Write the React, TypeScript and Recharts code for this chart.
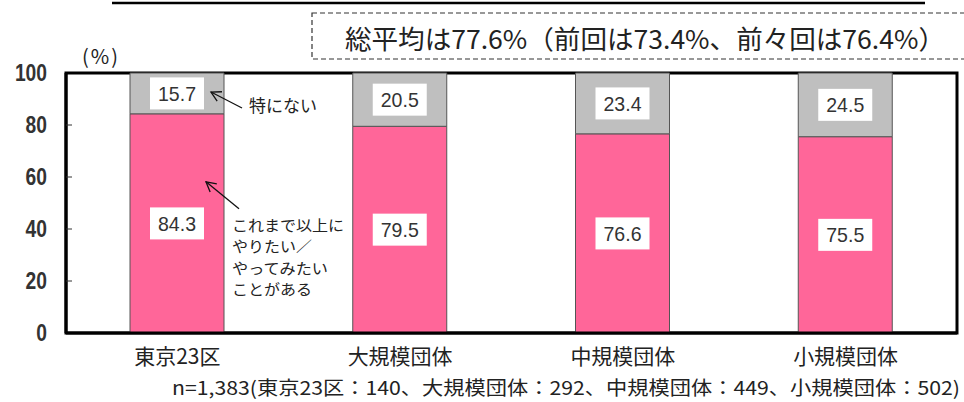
import React from 'react';
import { BarChart, Bar, XAxis, YAxis, ReferenceArea, LabelList } from 'recharts';

const categories = ['東京23区', '大規模団体', '中規模団体', '小規模団体'];
const wantValues = [84.3, 79.5, 76.6, 75.5];
const noneValues = [15.7, 20.5, 23.4, 24.5];
const yTicks = [0, 20, 40, 60, 80, 100];
const summaryText = '総平均は77.6%（前回は73.4%、前々回は76.4%）';
const unitText = '(%)';
const noteText = 'n=1,383(東京23区：140、大規模団体：292、中規模団体：449、小規模団体：502)';
const noneLabel = '特にない';
const wantLabelLines = ['これまで以上に', 'やりたい／', 'やってみたい', 'ことがある'];

const data = categories.map((name, i) => ({ name, want: wantValues[i], none: noneValues[i] }));

const JP = '"Noto Sans CJK JP", "Noto Sans", sans-serif';
const NUM = '"Liberation Sans", "DejaVu Sans", sans-serif';

const YTick = (props: any) => {
  const { x, y, payload } = props;
  const axisX = x + 19;
  const v = payload.value;
  const s = String(v);
  return (
    <g>
      {v > 0 && v < 100 && <line x1={axisX} x2={axisX + 6} y1={y} y2={y} stroke="#333" strokeWidth={1} />}
      <text
        x={x}
        y={y}
        dy={8}
        textAnchor="end"
        fontFamily={NUM}
        fontWeight="bold"
        fontSize={23}
        fill="#333"
        textLength={s.length * 10.7}
        lengthAdjust="spacingAndGlyphs"
      >
        {s}
      </text>
    </g>
  );
};

const XTick = (props: any) => {
  const { x, y, payload } = props;
  return (
    <text x={x} y={y + 23} textAnchor="middle" fontFamily={JP} fontSize={21} fill="#222">
      {payload.value}
    </text>
  );
};

const Arrow = ({ x1, y1, x2, y2 }: { x1: number; y1: number; x2: number; y2: number }) => {
  const ang = Math.atan2(y2 - y1, x2 - x1);
  const len = 11;
  const spread = 0.5;
  const ax = x2 - len * Math.cos(ang - spread);
  const ay = y2 - len * Math.sin(ang - spread);
  const bx = x2 - len * Math.cos(ang + spread);
  const by = y2 - len * Math.sin(ang + spread);
  return (
    <g stroke="#111" strokeWidth={1.3} fill="none">
      <line x1={x1} y1={y1} x2={x2} y2={y2} />
      <polyline points={`${ax},${ay} ${x2},${y2} ${bx},${by}`} />
    </g>
  );
};

const makeLabel = (series: 'want' | 'none') => (props: any) => {
  const { x, y, width, height, value, index } = props;
  const cx = x + width / 2;
  const cy = y + height / 2;
  const bw = 54;
  const bh = 32;
  const txt = Number(value).toFixed(1);
  return (
    <g>
      <rect x={cx - bw / 2} y={cy - bh / 2} width={bw} height={bh} fill="#fff" />
      <text
        x={cx}
        y={cy}
        dy={7.5}
        textAnchor="middle"
        fontFamily={NUM}
        fontSize={21}
        fill="#333"
        textLength={38}
        lengthAdjust="spacingAndGlyphs"
      >
        {txt}
      </text>
      {index === 0 && series === 'none' && (
        <g>
          <Arrow x1={x + width + 18} y1={y + 35} x2={x + width - 13} y2={y + 19} />
          <text x={x + width + 25} y={y + 39} fontFamily={JP} fontSize={17} fill="#222">
            {noneLabel}
          </text>
        </g>
      )}
      {index === 0 && series === 'want' && (
        <g>
          <Arrow x1={x + width + 15} y1={y + 95} x2={x + width - 18} y2={y + 68} />
          {wantLabelLines.map((t, k) => (
            <text
              key={k}
              x={x + width + 8}
              y={y + 117 + k * 21.5}
              fontFamily={JP}
              fontSize={14.6}
              fill="#222"
              textLength={t.length * 16}
              lengthAdjust="spacingAndGlyphs"
            >
              {t}
            </text>
          ))}
        </g>
      )}
    </g>
  );
};

export default function App() {
  return (
    <div style={{ position: 'absolute', left: 0, top: 0, width: 964, height: 402, background: '#fff' }}>
      <svg width={964} height={402} style={{ position: 'absolute', left: 0, top: 0 }}>
        <line x1={112} x2={925} y1={3} y2={3} stroke="#000" strokeWidth={2.5} />
        <rect x={312} y={13} width={700} height={46} fill="none" stroke="#333" strokeWidth={1.2} strokeDasharray="5 3" />
        <text
          x={645}
          y={49}
          textAnchor="middle"
          fontFamily={JP}
          fontSize={26}
          fill="#222"
          textLength={600}
          lengthAdjust="spacingAndGlyphs"
        >
          {summaryText}
        </text>
        <text x={101} y={64} textAnchor="middle" fontFamily={JP} fontSize={20} letterSpacing={2} fill="#222">
          {unitText}
        </text>
        <text
          x={566}
          y={395}
          textAnchor="middle"
          fontFamily={JP}
          fontSize={19}
          fill="#222"
          textLength={788}
          lengthAdjust="spacingAndGlyphs"
        >
          {noteText}
        </text>
      </svg>
      <div style={{ position: 'absolute', left: 0, top: 0 }}>
        <BarChart width={964} height={402} data={data} margin={{ top: 73, right: 7, bottom: 0, left: 0 }}>
          <XAxis
            dataKey="name"
            height={69}
            axisLine={{ stroke: '#000', strokeWidth: 3 }}
            tickLine={false}
            tick={<XTick />}
            interval={0}
          />
          <YAxis
            width={66}
            domain={[0, 100]}
            ticks={yTicks}
            interval={0}
            axisLine={{ stroke: '#000', strokeWidth: 3 }}
            tickLine={false}
            tickSize={6}
            tickMargin={13}
            tick={<YTick />}
          />
          <Bar dataKey="want" stackId="a" fill="#FF6699" stroke="#555" strokeWidth={1} barSize={94} isAnimationActive={false}>
            <LabelList dataKey="want" content={makeLabel('want')} />
          </Bar>
          <Bar dataKey="none" stackId="a" fill="#BFBFBF" stroke="#555" strokeWidth={1} barSize={94} isAnimationActive={false}>
            <LabelList dataKey="none" content={makeLabel('none')} />
          </Bar>
          <ReferenceArea y1={0} y2={100} fill="none" stroke="#000" strokeWidth={3} ifOverflow="visible" />
        </BarChart>
      </div>
    </div>
  );
}
